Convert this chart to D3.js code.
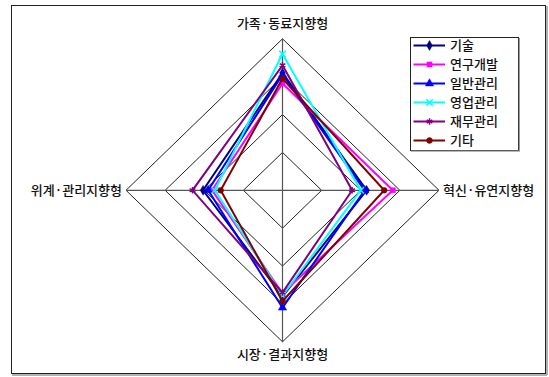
<!DOCTYPE html>
<html><head><meta charset="utf-8">
<script src="https://cdn.jsdelivr.net/npm/d3@7"></script>
<style>
html,body{margin:0;padding:0;background:#fff;}
svg{display:block;font-family:"Noto Sans CJK KR","Noto Sans",sans-serif;}
</style></head>
<body><svg id="c" width="549" height="377"></svg>
<script>
const axes = ["가족·동료지향형", "혁신·유연지향형", "시장·결과지향형", "위계·관리지향형"];
const seriesNames = ["기술", "연구개발", "일반관리", "영업관리", "재무관리", "기타"];
const 기술 = [31.0, 21.5, 28.0, 20.3];
const 연구개발 = [28.2, 28.2, 27.2, 18.0];
const 일반관리 = [30.5, 21.0, 31.0, 19.0];
const 영업관리 = [36.0, 20.0, 27.8, 17.3];
const 재무관리 = [33.0, 17.8, 27.0, 23.0];
const 기타 = [29.5, 26.0, 29.3, 15.8];
const seriesValues = [기술, 연구개발, 일반관리, 영업관리, 재무관리, 기타];
const ringTicks = [10, 20, 30, 40];
const colors = ["#000080", "#FF00FF", "#0000FF", "#00FFFF", "#800080", "#800000"];
const symbols = [d3.symbolDiamond, d3.symbolSquare, d3.symbolTriangle, d3.symbolX, d3.symbolAsterisk, d3.symbolCircle];
const strokeSym = [false, false, false, true, true, false];
const symSize = [28, 26, 30, 30, 30, 26];

const svg = d3.select("#c");
const cx = 282.5, cy = 190.3;
const rx = d3.scaleLinear().domain([0, 40]).range([0, 156.5]);
const ry = d3.scaleLinear().domain([0, 40]).range([0, 151.5]);
const dirs = [[0, -1], [1, 0], [0, 1], [-1, 0]];
function pt(i, v) {
  const d = dirs[i];
  return [cx + d[0] * rx(v), cy + d[1] * ry(v)];
}

svg.append("rect").attr("x", 11.5).attr("y", 5.5).attr("width", 534).attr("height", 368)
  .attr("fill", "none").attr("stroke", "#222").attr("stroke-width", 1);
svg.append("line").attr("x1", 547).attr("x2", 547).attr("y1", 6).attr("y2", 375).attr("stroke", "#999").attr("stroke-width", 1.5);
svg.append("line").attr("x1", 12).attr("x2", 547).attr("y1", 375).attr("y2", 375).attr("stroke", "#999").attr("stroke-width", 1.5);

const line = d3.line();
svg.append("g").selectAll("path").data(ringTicks).join("path")
  .attr("d", t => line(axes.map((a, i) => pt(i, t))) + "Z")
  .attr("fill", "none").attr("stroke", "#222").attr("stroke-width", 1);
svg.append("g").selectAll("line").data(axes).join("line")
  .attr("x1", cx).attr("y1", cy)
  .attr("x2", (a, i) => pt(i, 40)[0]).attr("y2", (a, i) => pt(i, 40)[1])
  .attr("stroke", "#555").attr("stroke-width", 1.2);

const lab = svg.append("g").attr("font-size", 13).attr("font-weight", 500).attr("fill", "#111");
lab.append("text").attr("x", cx).attr("y", pt(0, 40)[1] - 11).attr("text-anchor", "middle").text(axes[0]);
lab.append("text").attr("x", pt(1, 40)[0] + 4).attr("y", cy + 4.5).attr("text-anchor", "start").text(axes[1]);
lab.append("text").attr("x", cx).attr("y", pt(2, 40)[1] + 17).attr("text-anchor", "middle").text(axes[2]);
lab.append("text").attr("x", pt(3, 40)[0] - 4).attr("y", cy + 4.5).attr("text-anchor", "end").text(axes[3]);

seriesValues.forEach((vals, s) => {
  const g = svg.append("g");
  const pts = vals.map((v, i) => pt(i, v));
  g.append("path").attr("d", line(pts) + "Z").attr("fill", "none")
    .attr("stroke", colors[s]).attr("stroke-width", 2).attr("stroke-linejoin", "miter");
  g.selectAll("path.m").data(pts).join("path").attr("class", "m")
    .attr("transform", p => `translate(${p[0]},${p[1]})`)
    .attr("d", d3.symbol().type(symbols[s]).size(symSize[s]))
    .attr("fill", strokeSym[s] ? "none" : colors[s])
    .attr("stroke", colors[s]).attr("stroke-width", strokeSym[s] ? 1.5 : 0.5);
});

const lg = svg.append("g");
lg.append("rect").attr("x", 410.5).attr("y", 37.5).attr("width", 108).attr("height", 113)
  .attr("fill", "#fff").attr("stroke", "#222").attr("stroke-width", 1);
lg.append("rect").attr("x", 411).attr("y", 150.5).attr("width", 108.5).attr("height", 1.2).attr("fill", "#999");
lg.append("rect").attr("x", 518.8).attr("y", 38).attr("width", 1.2).attr("height", 113.5).attr("fill", "#999");
const ly = d3.scaleLinear().domain([0, 5]).range([45.5, 140.5]);
seriesNames.forEach((n, s) => {
  const y = ly(s);
  lg.append("line").attr("x1", 413.5).attr("x2", 445).attr("y1", y).attr("y2", y)
    .attr("stroke", colors[s]).attr("stroke-width", 2);
  lg.append("path").attr("transform", `translate(429.5,${y})`)
    .attr("d", d3.symbol().type(symbols[s]).size(symSize[s]))
    .attr("fill", strokeSym[s] ? "none" : colors[s])
    .attr("stroke", colors[s]).attr("stroke-width", strokeSym[s] ? 1.5 : 0.5);
  lg.append("text").attr("x", 450).attr("y", y + 4.6).attr("font-size", 13).attr("font-weight", 500)
    .attr("fill", "#111").text(n);
});
</script></body></html>
